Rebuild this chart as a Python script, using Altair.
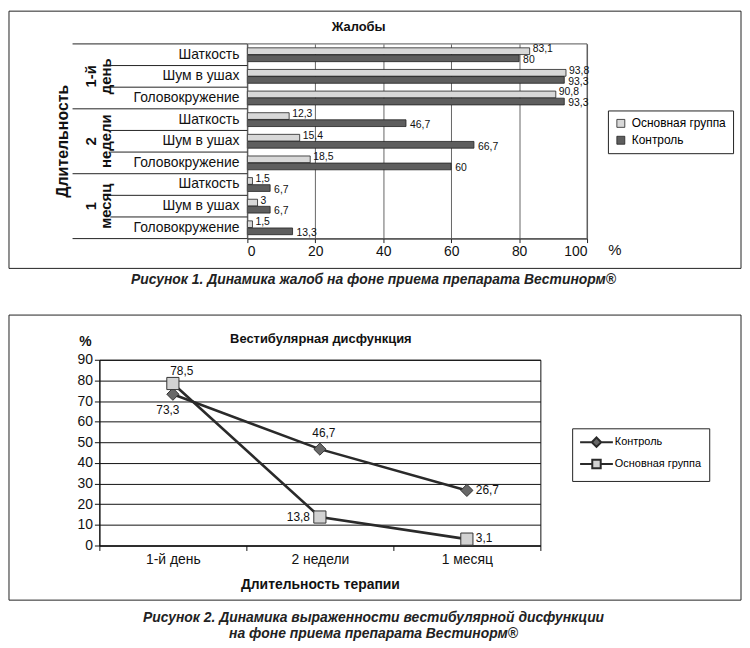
import altair as alt
import pandas as pd

FONT = "Liberation Sans, Arial, sans-serif"

# ---------------- data: figure 1 ----------------
periods = ["1-й день", "2 недели", "1 месяц"]
period_lines = ["1-й\nдень", "2\nнедели", "1\nмесяц"]
symptoms = ["Шаткость", "Шум в ушах", "Головокружение"]
groups = ["Основная группа", "Контроль"]
main_vals = [83.1, 93.8, 90.8, 12.3, 15.4, 18.5, 1.5, 3, 1.5]
ctrl_vals = [80, 93.3, 93.3, 46.7, 66.7, 60, 6.7, 6.7, 13.3]

# ---------------- data: figure 2 ----------------
therapy = ["1-й день", "2 недели", "1 месяц"]
series2 = ["Контроль", "Основная группа"]
vest_ctrl = [73.3, 46.7, 26.7]
vest_main = [78.5, 13.8, 3.1]


def fmt(v):
    return f"{v:g}".replace(".", ",")


cats = [p + "|" + s for p in periods for s in symptoms]
rows1 = []
for i, c in enumerate(cats):
    rows1.append({"cat": c, "group": groups[0], "value": main_vals[i], "label": fmt(main_vals[i])})
    rows1.append({"cat": c, "group": groups[1], "value": ctrl_vals[i], "label": fmt(ctrl_vals[i])})
df1 = pd.DataFrame(rows1)

one = pd.DataFrame({"k": [0]})

# Both panels share the same left origin (the concat column aligns them);
# the bar panel's value axis starts OFF px to the right of that origin.
OFF = 149
W1, H1 = 491, 196

yenc = alt.Y("cat:N", sort=cats,
             scale=alt.Scale(domain=cats, paddingInner=0, paddingOuter=0), axis=None)
xenc = alt.X("value:Q", scale=alt.Scale(domain=[0, 100], range=[OFF, W1]),
             axis=alt.Axis(values=[0, 20, 40, 60, 80, 100], grid=True, gridColor="#666",
                           tickSize=4, tickColor="#222", domainColor="#222",
                           labelFontSize=14, labelPadding=2, labelColor="#111", title=None))
yoff = alt.YOffset("group:N", sort=groups,
                   scale=alt.Scale(domain=groups, paddingInner=0.05, paddingOuter=0.55))

frame1 = alt.Chart(one).mark_rect(fill="transparent", stroke="#222", strokeWidth=1).encode(
    x=alt.value(-91), x2=alt.value(646), y=alt.value(-33), y2=alt.value(226))
spacer1 = alt.Chart(one).mark_rect(opacity=0).encode(
    x=alt.value(0), x2=alt.value(10), y=alt.value(226), y2=alt.value(271.5))
box1 = alt.Chart(one).mark_rect(fill="transparent", stroke="#555", strokeWidth=1).encode(
    x=alt.datum(0, scale=alt.Scale(domain=[0, 100], range=[OFF, W1])), x2=alt.datum(100),
    y=alt.value(0), y2=alt.value(H1))

bars = alt.Chart(df1).mark_bar(stroke="#222", strokeWidth=0.8).encode(
    y=yenc, x=xenc, yOffset=yoff,
    fill=alt.Fill("group:N", sort=groups,
                  scale=alt.Scale(domain=groups, range=["#d8d8d8", "#5e5e5e"]),
                  legend=alt.Legend(title=None, orient="none", legendX=512, legendY=67,
                                    strokeColor="#222", padding=7, symbolType="square",
                                    symbolSize=64, symbolStrokeColor="#222",
                                    symbolStrokeWidth=0.8, labelFontSize=12, rowPadding=5,
                                    labelOffset=5)))

lab_main = alt.Chart(df1).transform_filter(alt.datum.group == groups[0]).mark_text(
    align="left", baseline="middle", dx=3, dy=-2, fontSize=10.5, color="#111").encode(
    y=alt.Y("cat:N", sort=cats), x=xenc, yOffset=yoff, text="label:N")
lab_ctrl = alt.Chart(df1).transform_filter(alt.datum.group == groups[1]).mark_text(
    align="left", baseline="middle", dx=4, dy=1.8, fontSize=10.5, color="#111").encode(
    y=alt.Y("cat:N", sort=cats), x=xenc, yOffset=yoff, text="label:N")

cat_df = pd.DataFrame({"cat": cats, "sym": symptoms * len(periods)})
cat_labels = alt.Chart(cat_df).mark_text(align="right", baseline="middle", fontSize=14,
                                         color="#111").encode(
    y=alt.Y("cat:N", sort=cats), x=alt.value(OFF - 8), text="sym:N")

starts = [p + "|" + symptoms[0] for p in periods]
inner = [c for c in cats if c not in starts]
rules_short = alt.Chart(pd.DataFrame({"cat": inner})).mark_rule(color="#222").encode(
    y=alt.Y("cat:N", sort=cats, bandPosition=0), x=alt.value(OFF - 138), x2=alt.value(OFF))
rules_long = alt.Chart(pd.DataFrame({"cat": starts})).mark_rule(color="#222").encode(
    y=alt.Y("cat:N", sort=cats, bandPosition=0), x=alt.value(OFF - 176), x2=alt.value(OFF))
rule_end = alt.Chart(pd.DataFrame({"cat": [cats[-1]]})).mark_rule(color="#222").encode(
    y=alt.Y("cat:N", sort=cats, bandPosition=1), x=alt.value(OFF - 176), x2=alt.value(OFF))

grp_df = pd.DataFrame({"cat": [p + "|" + symptoms[1] for p in periods], "lbl": period_lines})
grp_labels = alt.Chart(grp_df).mark_text(angle=270, fontWeight="bold", fontSize=15,
                                         lineHeight=15, align="center", baseline="middle",
                                         lineBreak="\n", color="#111").encode(
    y=alt.Y("cat:N", sort=cats), x=alt.value(OFF - 157), text="lbl:N")

ytitle1 = alt.Chart(one).mark_text(angle=270, fontWeight="bold", fontSize=16, color="#111",
                                   text="Длительность").encode(x=alt.value(OFF - 186), y=alt.value(98))
title1 = alt.Chart(one).mark_text(fontWeight="bold", fontSize=13, color="#111",
                                  text="Жалобы").encode(x=alt.value(OFF + 112), y=alt.value(-17))
pct1 = alt.Chart(one).mark_text(fontSize=15, color="#111", text="%").encode(
    x=alt.value(OFF + 370), y=alt.value(208))
cap1 = alt.Chart(one).mark_text(fontWeight="bold", fontStyle="italic", fontSize=14, color="#222",
                                text="Рисунок 1. Динамика жалоб на фоне приема препарата Вестинорм®").encode(
    x=alt.value(276), y=alt.value(238))

top = alt.layer(frame1, spacer1, bars, box1, lab_main, lab_ctrl, cat_labels, rules_short,
                rules_long, rule_end, grp_labels, ytitle1, title1, pct1, cap1).properties(
    width=W1, height=H1, view=alt.ViewBackground(stroke="transparent"))

# ---------------- figure 2 ----------------
rows2 = []
for i, t in enumerate(therapy):
    rows2.append({"period": t, "series": series2[0], "value": vest_ctrl[i], "label": fmt(vest_ctrl[i])})
    rows2.append({"period": t, "series": series2[1], "value": vest_main[i], "label": fmt(vest_main[i])})
df2 = pd.DataFrame(rows2)

W2, H2 = 444, 187
x2enc = alt.X("period:N", sort=therapy,
              scale=alt.Scale(type="band", domain=therapy, paddingInner=0, paddingOuter=0),
              axis=alt.Axis(tickBand="extent", tickSize=5, tickColor="#111", domainColor="#111",
                            labelFontSize=14, labelPadding=2, labelAngle=0, labelColor="#111",
                            title="Длительность терапии", titleFontSize=14, titleFontWeight="bold",
                            titlePadding=11, titleColor="#111"))
y2enc = alt.Y("value:Q", scale=alt.Scale(domain=[0, 90]),
              axis=alt.Axis(values=list(range(0, 91, 10)), grid=True, gridColor="#111",
                            tickSize=5, tickColor="#111", domainColor="#111", labelOverlap=False,
                            labelFontSize=14, labelColor="#111", title=None))

frame2 = alt.Chart(one).mark_rect(fill="transparent", stroke="#222", strokeWidth=1).encode(
    x=alt.value(-91), x2=alt.value(646), y=alt.value(-45), y2=alt.value(242))

lines = alt.Chart(df2).mark_line(color="#2a2a2a", strokeWidth=2.6).encode(
    x=x2enc, y=y2enc, detail="series:N")
diam = alt.Chart(df2).transform_filter(alt.datum.series == series2[0]).mark_point(
    shape="diamond", filled=True, fill="#686868", stroke="#333", strokeWidth=1, size=150,
    opacity=1).encode(x=x2enc, y=y2enc)
squa = alt.Chart(df2).transform_filter(alt.datum.series == series2[1]).mark_point(
    shape="square", filled=True, fill="#d2d2d2", stroke="#333", strokeWidth=1, size=150,
    opacity=1).encode(x=x2enc, y=y2enc)


def lab2(series, period, **kw):
    return alt.Chart(df2).transform_filter(
        (alt.datum.series == series) & (alt.datum.period == period)).mark_text(
        fontSize=12, color="#111", baseline="middle", **kw).encode(
        x=x2enc, y=y2enc, text="label:N")


labs2 = [
    lab2(series2[1], therapy[0], align="center", dx=9, dy=-13),
    lab2(series2[0], therapy[0], align="center", dx=-5, dy=16),
    lab2(series2[0], therapy[1], align="center", dx=4, dy=-16),
    lab2(series2[1], therapy[1], align="right", dx=-10, dy=0),
    lab2(series2[0], therapy[2], align="left", dx=9, dy=0),
    lab2(series2[1], therapy[2], align="left", dx=9, dy=-1),
]

# legend symbols: line segment with a marker in the middle (unit = 5 px)
leg_paths = ["M-1.2,0H1.15M3.05,0H5.4M2.1,-0.95L3.05,0L2.1,0.95L1.15,0Z",
             "M-1.2,0H1.25M2.95,0H5.4M1.25,-0.85H2.95V0.85H1.25Z"]
leg2 = alt.Legend(title=None, orient="none", legendX=476, legendY=69, strokeColor="#222",
                  padding=8, symbolSize=100, symbolStrokeColor="#2a2a2a", symbolStrokeWidth=2,
                  labelFontSize=11, rowPadding=4, labelOffset=23)
legend_layer = alt.Chart(df2).transform_filter(alt.datum.value < 0).mark_point(
    filled=True, strokeWidth=2, opacity=1).encode(
    shape=alt.Shape("series:N", sort=series2, scale=alt.Scale(domain=series2, range=leg_paths),
                    legend=leg2),
    fill=alt.Fill("series:N", sort=series2, scale=alt.Scale(domain=series2, range=["#686868", "#d2d2d2"]),
                  legend=leg2),
    stroke=alt.Stroke("series:N", sort=series2, scale=alt.Scale(domain=series2, range=["#2a2a2a", "#2a2a2a"]),
                      legend=leg2),
    size=alt.value(100))

title2 = alt.Chart(one).mark_text(fontWeight="bold", fontSize=13, color="#111",
                                  text="Вестибулярная дисфункция").encode(x=alt.value(223), y=alt.value(-21))
pct2 = alt.Chart(one).mark_text(fontWeight="bold", fontSize=14, color="#111", text="%").encode(
    x=alt.value(-14), y=alt.value(-18))
cap2a = alt.Chart(one).mark_text(fontWeight="bold", fontStyle="italic", fontSize=14, color="#222",
                                 text="Рисунок 2. Динамика выраженности вестибулярной дисфункции").encode(
    x=alt.value(276), y=alt.value(260))
cap2b = alt.Chart(one).mark_text(fontWeight="bold", fontStyle="italic", fontSize=14, color="#222",
                                 text="на фоне приема препарата Вестинорм®").encode(
    x=alt.value(276), y=alt.value(276))

bottom = alt.layer(frame2, lines, diam, squa, *labs2, legend_layer, title2, pct2, cap2a, cap2b).properties(
    width=W2, height=H2, view=alt.ViewBackground(stroke="#111")).resolve_scale(
    shape="independent", fill="independent", stroke="independent")

chart = alt.concat(top, bottom, columns=1, spacing=0, align="none").resolve_scale(
    x="independent", y="independent", fill="independent", shape="independent",
    stroke="independent").resolve_legend(
    fill="independent", shape="independent", stroke="independent").properties(
    padding=0, background="white").configure(
    font=FONT).configure_axis(labelFont=FONT, titleFont=FONT).configure_legend(labelFont=FONT)

chart.save("out.html", embed_options={"renderer": "svg", "actions": False})
